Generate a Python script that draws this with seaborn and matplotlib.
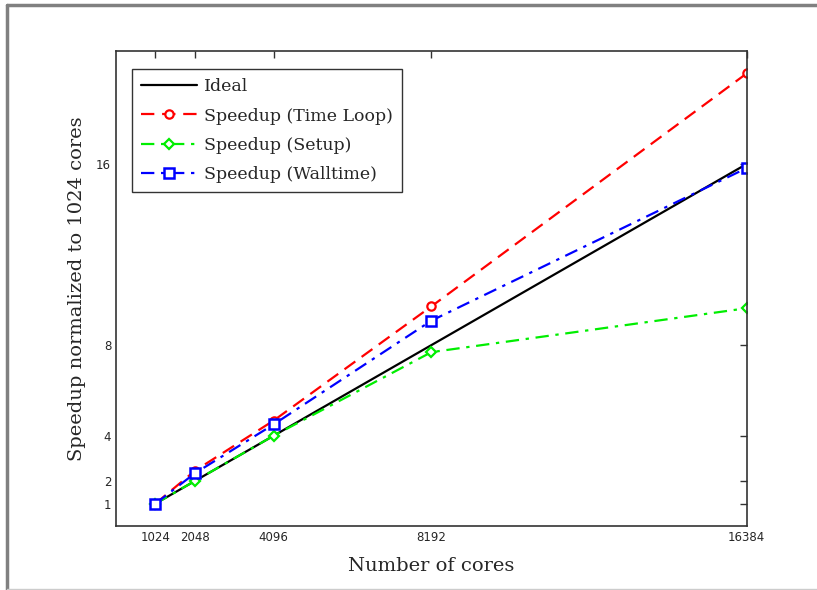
import numpy as np
import pandas as pd
import matplotlib
matplotlib.use("Agg")
import matplotlib.pyplot as plt
import seaborn as sns
from matplotlib.lines import Line2D

# data
cores = [1024, 2048, 4096, 8192, 16384]
ideal = [1, 2, 4, 8, 16]
time_loop = [1, 2.45, 4.67, 9.71, 20.0]
setup = [1, 2.0, 4.0, 7.69, 9.63]
walltime = [1, 2.34, 4.5, 9.08, 15.82]
yticks = [1, 2, 4, 8, 16]

sns.set_style("white")
plt.rcParams["font.family"] = ["DejaVu Serif"]

fig = plt.figure(figsize=(8.17, 5.9), dpi=100)
ax = fig.add_axes([0.142, 0.108, 0.772, 0.806])

sns.lineplot(x=cores, y=ideal, ax=ax, color="black", linewidth=1.6, label="Ideal")
sns.lineplot(x=cores, y=time_loop, ax=ax, color="red", linewidth=1.6,
             marker="o", markersize=6, markerfacecolor="white", markeredgecolor="red",
             markeredgewidth=1.6, dashes=False, label="Speedup (Time Loop)")
sns.lineplot(x=cores, y=setup, ax=ax, color="#00ee00", linewidth=1.6,
             marker="D", markersize=5, markerfacecolor="white", markeredgecolor="#00ee00",
             markeredgewidth=1.6, dashes=False, label="Speedup (Setup)")
sns.lineplot(x=cores, y=walltime, ax=ax, color="blue", linewidth=1.6,
             marker="s", markersize=7, markerfacecolor="white", markeredgecolor="blue",
             markeredgewidth=1.8, dashes=False, label="Speedup (Walltime)")

# line styles
ax.lines[1].set_dashes([6, 3.5])
ax.lines[2].set_dashes([6, 3, 1.5, 3])
ax.lines[3].set_dashes([6, 3, 1.5, 3])

ax.set_xlim(0, 16384)
ax.set_ylim(0, 21)
ax.set_xticks(cores)
ax.set_xticklabels([str(c) for c in cores], family="DejaVu Sans", fontsize=8.5)
ax.set_yticks(yticks)
ax.set_yticklabels([str(t) for t in yticks], family="DejaVu Sans", fontsize=8.5)
ax.tick_params(direction="in", top=True, right=True, length=5, width=1, color="#333333")
for s in ax.spines.values():
    s.set_color("#333333")
    s.set_linewidth(1.2)

ax.set_xlabel("Number of cores", fontsize=14, labelpad=9)
ax.set_ylabel("Speedup normalized to 1024 cores", fontsize=14, labelpad=7)

leg = ax.legend(loc="upper left", bbox_to_anchor=(0.025, 0.962), borderaxespad=0,
                fontsize=12.5, handlelength=3.2, frameon=True, fancybox=False,
                borderpad=0.55, labelspacing=0.7, handletextpad=0.4)
leg.get_frame().set_edgecolor("black")
leg.get_frame().set_linewidth(1.0)

# outer frame of the figure
fig.add_artist(Line2D([0.008, 0.008], [0.0, 0.992], transform=fig.transFigure,
                      color="#808080", linewidth=2.5))
fig.add_artist(Line2D([0.008, 1.0], [0.992, 0.992], transform=fig.transFigure,
                      color="#808080", linewidth=2.5))
fig.add_artist(Line2D([0.008, 1.0], [0.002, 0.002], transform=fig.transFigure,
                      color="#cccccc", linewidth=1))

fig.savefig("out.png", dpi=100)
